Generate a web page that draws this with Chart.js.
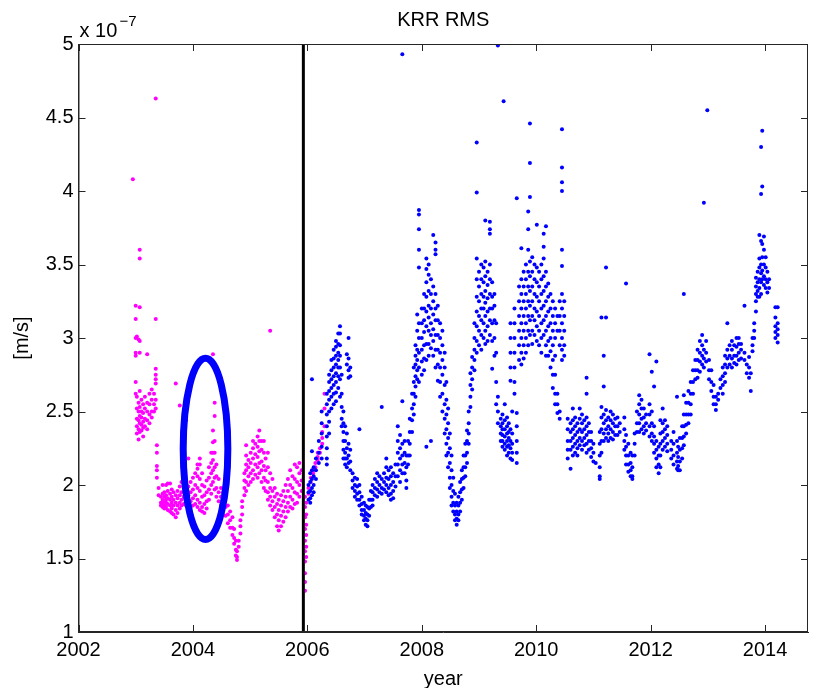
<!DOCTYPE html>
<html lang="en">
<head>
<meta charset="UTF-8">
<title>KRR RMS</title>
<script src="https://cdn.jsdelivr.net/npm/chart.js@4.4.1/dist/chart.umd.min.js"></script>
<style>
  html, body { margin: 0; padding: 0; background: #fff; }
  #wrap { width: 817px; height: 688px; }
</style>
</head>
<body>
<div id="wrap"><canvas id="chart" width="817" height="688"></canvas></div>
<script>
// values are RMS in units of 1e-7 m/s, grouped by year: [year, [values...]]
var magentaCols = [
  [2002.95, [4.08]],
  [2003.00, [3.22, 3.13, 3.00, 2.90, 2.88, 2.70, 2.62]],
  [2003.02, [3.01, 2.60, 2.52, 2.45, 2.40, 2.35]],
  [2003.05, [2.99, 2.56, 2.50, 2.44, 2.38, 2.31]],
  [2003.07, [3.60, 3.54, 3.21, 2.98, 2.90, 2.64, 2.53, 2.47, 2.42, 2.36]],
  [2003.10, [2.58, 2.50, 2.46, 2.41, 2.37]],
  [2003.13, [2.55, 2.49, 2.43, 2.39, 2.33]],
  [2003.16, [2.60, 2.52, 2.45, 2.40]],
  [2003.20, [2.89, 2.56, 2.50, 2.44, 2.38]],
  [2003.24, [2.62, 2.55, 2.48, 2.42]],
  [2003.28, [2.65, 2.58, 2.50, 2.46]],
  [2003.32, [2.62, 2.55, 2.50]],
  [2003.35, [4.63, 3.13, 2.79, 2.75, 2.72, 2.69, 2.58, 2.52]],
  [2003.37, [2.27, 2.22, 2.13, 2.10, 2.05]],
  [2003.40, [1.98, 1.93]],
  [2003.44, [1.92, 1.88, 1.86]],
  [2003.47, [2.00, 1.94, 1.90, 1.87, 1.85]],
  [2003.50, [1.95, 1.92, 1.89, 1.86, 1.84]],
  [2003.53, [2.00, 1.93, 1.90, 1.88, 1.85]],
  [2003.56, [2.01, 1.96, 1.91, 1.87, 1.83]],
  [2003.60, [2.01, 1.94, 1.90, 1.86, 1.82]],
  [2003.63, [1.97, 1.92, 1.88, 1.84, 1.81]],
  [2003.66, [1.95, 1.90, 1.86, 1.80]],
  [2003.70, [2.69, 1.93, 1.88, 1.83, 1.78]],
  [2003.73, [1.96, 1.91, 1.86, 1.81]],
  [2003.77, [2.54, 1.99, 1.93, 1.88, 1.84]],
  [2003.80, [2.02, 1.95, 1.90, 1.86]],
  [2003.84, [2.05, 1.98, 1.92, 1.87]],
  [2003.88, [2.44, 1.96, 1.90, 1.86]],
  [2003.92, [2.18, 1.99, 1.93, 1.88]],
  [2003.96, [2.02, 1.95, 1.89, 1.85]],
  [2004.00, [2.05, 1.97, 1.91, 1.86]],
  [2004.04, [2.08, 2.00, 1.93, 1.87]],
  [2004.08, [2.14, 2.11, 2.06, 1.98, 1.90, 1.85]],
  [2004.12, [2.18, 2.14, 2.04, 1.96, 1.88, 1.83]],
  [2004.16, [2.08, 2.00, 1.92, 1.85, 1.82]],
  [2004.20, [1.99, 1.93, 1.87, 1.81]],
  [2004.24, [2.03, 1.95, 1.89, 1.84]],
  [2004.28, [2.12, 2.05, 1.97, 1.90]],
  [2004.32, [2.22, 2.15, 2.08, 2.00, 1.94]],
  [2004.35, [2.89, 2.37, 2.29, 2.22, 2.17, 2.10, 2.02]],
  [2004.38, [2.56, 2.47, 2.30, 2.22, 2.12, 2.05, 1.97]],
  [2004.41, [2.14, 2.06, 1.98, 1.92]],
  [2004.45, [2.04, 1.95, 1.89]],
  [2004.49, [1.98, 1.92, 1.86]],
  [2004.53, [1.95, 1.89, 1.83]],
  [2004.57, [1.92, 1.85, 1.79]],
  [2004.61, [1.86, 1.80, 1.74]],
  [2004.65, [1.82, 1.76, 1.71]],
  [2004.69, [1.78, 1.71, 1.66]],
  [2004.72, [1.70, 1.64, 1.60]],
  [2004.75, [1.62, 1.56, 1.52]],
  [2004.77, [1.55, 1.51, 1.49]],
  [2004.80, [1.58, 1.62]],
  [2004.83, [1.67, 1.72, 1.76]],
  [2004.86, [1.80, 1.85, 1.89]],
  [2004.90, [1.93, 1.98, 2.03, 2.08]],
  [2004.93, [2.14, 2.20, 2.27, 2.10, 2.02, 1.96]],
  [2004.97, [2.17, 2.12, 2.06, 2.00]],
  [2005.01, [2.22, 2.15, 2.08, 2.02]],
  [2005.05, [2.30, 2.25, 2.18, 2.10, 2.04]],
  [2005.09, [2.28, 2.21, 2.14, 2.07]],
  [2005.13, [2.33, 2.26, 2.19, 2.12, 2.05]],
  [2005.16, [2.37, 2.30, 2.23, 2.15, 2.08]],
  [2005.20, [2.30, 2.24, 2.16, 2.10, 2.02]],
  [2005.24, [2.30, 2.22, 2.13, 2.05, 1.98]],
  [2005.27, [2.18, 2.10, 2.03, 1.96]],
  [2005.31, [2.22, 2.12, 2.02, 1.95, 1.90]],
  [2005.35, [3.05, 2.08, 1.98, 1.92, 1.86]],
  [2005.39, [2.04, 1.96, 1.89, 1.83]],
  [2005.43, [1.98, 1.92, 1.85, 1.78]],
  [2005.47, [1.94, 1.87, 1.80, 1.72]],
  [2005.50, [1.90, 1.83, 1.76, 1.69]],
  [2005.54, [1.93, 1.86, 1.79, 1.72]],
  [2005.58, [1.96, 1.89, 1.82, 1.75]],
  [2005.62, [2.00, 1.92, 1.85, 1.78]],
  [2005.66, [2.04, 1.96, 1.88, 1.82]],
  [2005.70, [2.10, 2.00, 1.92, 1.85]],
  [2005.74, [2.06, 1.98, 1.90, 1.84]],
  [2005.78, [2.14, 2.04, 1.95, 1.87]],
  [2005.82, [2.12, 2.02, 1.94, 1.88]],
  [2005.86, [2.15, 2.08, 2.00, 1.92]],
  [2005.90, [2.10, 2.03, 1.96]],
  [2005.96, [1.92, 1.85, 1.78, 1.70, 1.62, 1.55, 1.48, 1.40, 1.34, 1.28]],
  [2005.98, [1.88, 1.80, 1.73, 1.66, 1.58, 1.51]],
  [2006.02, [1.98, 1.94]],
  [2006.06, [2.02, 2.05]],
  [2006.10, [2.08, 2.10]],
  [2006.14, [2.12, 2.15]],
  [2006.18, [2.17, 2.19, 2.22]],
  [2006.22, [2.22, 2.25]],
  [2006.26, [2.28, 2.32, 2.36]],
  [2006.30, [2.40, 2.52, 2.62]]
];

var blueCols = [
  [2006.02, [2.00, 1.95, 1.90]],
  [2006.05, [2.08, 2.02, 1.96, 1.91, 1.88]],
  [2006.08, [2.72, 2.23, 2.10, 2.04, 1.98, 1.93]],
  [2006.11, [2.12, 2.06, 2.00, 1.95]],
  [2006.15, [2.18, 2.10, 2.04]],
  [2006.20, [2.30, 2.22, 2.15]],
  [2006.25, [2.50, 2.42, 2.35, 2.26, 2.18]],
  [2006.34, [2.62, 2.55, 2.48, 2.40, 2.33, 2.25, 2.18, 2.14]],
  [2006.38, [2.75, 2.70, 2.64, 2.58, 2.50, 2.43, 2.35]],
  [2006.42, [2.85, 2.78, 2.72, 2.66, 2.60, 2.52]],
  [2006.46, [2.92, 2.86, 2.80, 2.74, 2.68, 2.62, 2.55]],
  [2006.50, [2.98, 2.94, 2.88, 2.82, 2.76, 2.70, 2.63, 2.57]],
  [2006.54, [3.03, 2.96, 2.90, 2.85, 2.80, 2.74, 2.66]],
  [2006.57, [3.08, 3.03, 2.95, 2.88, 2.80, 2.72, 2.60]],
  [2006.60, [2.75, 2.62, 2.53, 2.45, 2.40]],
  [2006.63, [2.50, 2.42, 2.36, 2.30, 2.24, 2.18]],
  [2006.66, [2.40, 2.30, 2.22, 2.18, 2.14]],
  [2006.69, [2.89, 2.82, 2.35, 2.25, 2.18, 2.12]],
  [2006.72, [3.00, 2.86, 2.78, 2.73, 2.28, 2.20, 2.15]],
  [2006.75, [2.80, 2.74, 2.24, 2.16, 2.10]],
  [2006.79, [2.08, 2.03, 1.98]],
  [2006.83, [2.05, 2.00, 1.96, 1.92]],
  [2006.87, [2.04, 1.99, 1.94, 1.90]],
  [2006.91, [2.38, 2.00, 1.95, 1.90, 1.86]],
  [2006.95, [1.92, 1.87, 1.83, 1.80]],
  [2006.99, [1.88, 1.83, 1.79, 1.76]],
  [2007.02, [1.86, 1.81, 1.77, 1.73]],
  [2007.05, [1.85, 1.80, 1.76, 1.72]],
  [2007.08, [1.90, 1.84, 1.79]],
  [2007.11, [1.96, 1.90, 1.85]],
  [2007.14, [2.00, 1.95, 1.90, 1.86]],
  [2007.18, [2.04, 1.98, 1.93]],
  [2007.22, [2.08, 2.02, 1.97, 1.92]],
  [2007.26, [2.06, 2.00, 1.95]],
  [2007.30, [2.53, 2.04, 1.98, 1.94]],
  [2007.34, [2.08, 2.02, 1.97]],
  [2007.38, [2.18, 2.12, 2.05, 2.00, 1.95]],
  [2007.42, [2.10, 2.04, 1.98, 1.93]],
  [2007.46, [2.12, 2.06, 2.00, 1.94, 1.90]],
  [2007.50, [2.08, 2.02, 1.96, 1.91]],
  [2007.54, [2.14, 2.06, 1.99]],
  [2007.58, [2.40, 2.30, 2.22, 2.14, 2.06]],
  [2007.62, [2.34, 2.25, 2.18, 2.10, 2.02]],
  [2007.66, [4.93, 2.57, 2.28, 2.20, 2.14, 2.08]],
  [2007.70, [2.30, 2.22, 2.15, 2.08]],
  [2007.73, [2.20, 2.12, 2.03, 1.98]],
  [2007.76, [2.30, 2.20, 2.14]],
  [2007.79, [2.45, 2.36, 2.28, 2.20]],
  [2007.83, [2.62, 2.52, 2.44, 2.36]],
  [2007.86, [2.80, 2.70, 2.62, 2.55, 2.48]],
  [2007.89, [2.95, 2.88, 2.82, 2.74, 2.67, 2.60]],
  [2007.92, [3.16, 3.05, 2.92, 2.85, 2.78, 2.72]],
  [2007.95, [3.87, 3.84, 3.74, 3.60, 3.48, 3.10, 3.00, 2.90, 2.80, 2.70]],
  [2008.00, [3.20, 3.10, 3.00, 2.92, 2.84, 2.75]],
  [2008.04, [3.30, 3.20, 3.12, 3.04, 2.95, 2.86, 2.78]],
  [2008.08, [3.54, 3.47, 3.38, 3.28, 3.18, 3.08, 2.96, 2.85, 2.26]],
  [2008.12, [3.50, 3.43, 3.32, 3.22, 3.14, 3.05, 2.96, 2.88]],
  [2008.16, [3.40, 3.30, 3.20, 3.10, 3.02, 2.93, 2.30]],
  [2008.20, [3.70, 3.35, 3.25, 3.16, 3.06, 2.98, 2.88]],
  [2008.24, [3.65, 3.60, 3.57, 3.30, 3.20, 3.12, 3.02, 2.92, 2.80]],
  [2008.28, [3.22, 3.12, 3.02, 2.92, 2.82, 2.71]],
  [2008.32, [3.10, 3.00, 2.90, 2.80, 2.70, 2.60]],
  [2008.36, [3.05, 2.95, 2.85, 2.75, 2.62, 2.50]],
  [2008.40, [2.90, 2.80, 2.68, 2.55, 2.45, 2.35]],
  [2008.43, [2.70, 2.58, 2.48, 2.38, 2.28, 2.20]],
  [2008.46, [2.52, 2.42, 2.32, 2.22, 2.12]],
  [2008.49, [2.35, 2.25, 2.15, 2.05, 1.98]],
  [2008.52, [2.20, 2.10, 2.00, 1.92, 1.86]],
  [2008.55, [2.05, 1.96, 1.88, 1.82]],
  [2008.58, [1.94, 1.86, 1.80, 1.76]],
  [2008.61, [1.88, 1.82, 1.77, 1.73]],
  [2008.64, [1.92, 1.86, 1.80, 1.76]],
  [2008.67, [2.02, 1.95, 1.88, 1.82]],
  [2008.70, [2.10, 2.04, 1.97, 1.90]],
  [2008.73, [2.20, 2.12, 2.05, 1.98]],
  [2008.76, [2.28, 2.20, 2.12, 2.06]],
  [2008.79, [2.37, 2.30, 2.22, 2.15]],
  [2008.82, [2.50, 2.42, 2.35, 2.28]],
  [2008.85, [2.76, 2.68, 2.60, 2.53]],
  [2008.88, [2.87, 2.80, 2.72, 2.65]],
  [2008.92, [3.10, 3.00, 2.92, 2.85, 2.78]],
  [2008.96, [4.33, 3.99, 3.54, 3.40, 3.28, 3.18, 3.08, 2.98, 2.90]],
  [2009.00, [3.45, 3.35, 3.25, 3.15, 3.05, 2.95]],
  [2009.04, [3.50, 3.40, 3.30, 3.20, 3.12, 3.02, 2.92]],
  [2009.08, [3.48, 3.38, 3.28, 3.20, 3.10, 3.00]],
  [2009.11, [3.80, 3.52, 3.42, 3.32, 3.24, 3.15, 3.05, 2.96]],
  [2009.15, [3.45, 3.36, 3.27, 3.18, 3.08, 2.98]],
  [2009.19, [3.79, 3.74, 3.71, 3.50, 3.40, 3.30, 3.20, 3.12, 3.02]],
  [2009.23, [3.38, 3.28, 3.20, 3.10, 2.98, 2.79]],
  [2009.27, [3.30, 3.22, 3.12, 3.00, 2.88]],
  [2009.30, [3.10, 2.90, 2.70, 2.55]],
  [2009.33, [4.99, 2.60, 2.50, 2.42]],
  [2009.38, [2.45, 2.40, 2.35, 2.30]],
  [2009.41, [2.48, 2.42, 2.38, 2.34, 2.30, 2.26]],
  [2009.43, [4.61]],
  [2009.45, [2.55, 2.44, 2.38, 2.33, 2.28, 2.24]],
  [2009.49, [2.46, 2.40, 2.35, 2.30, 2.26, 2.20]],
  [2009.52, [2.42, 2.36, 2.32, 2.27, 2.22]],
  [2009.55, [3.10, 3.00, 2.90, 2.80, 2.71, 2.38, 2.30, 2.25, 2.18]],
  [2009.58, [2.50, 2.35, 2.28, 2.22, 2.17]],
  [2009.62, [3.20, 3.10, 3.00, 2.90, 2.80, 2.70, 2.62]],
  [2009.66, [3.95, 2.49, 2.40, 2.30, 2.22, 2.15]],
  [2009.70, [3.35, 3.25, 3.15, 3.05, 2.95, 2.85]],
  [2009.74, [3.61, 3.40, 3.30, 3.20, 3.10, 3.00, 2.90, 2.82]],
  [2009.78, [3.45, 3.35, 3.25, 3.15, 3.05, 2.95, 2.86]],
  [2009.82, [3.50, 3.40, 3.30, 3.20, 3.10, 3.00, 2.90]],
  [2009.86, [3.86, 3.74, 3.60, 3.45, 3.35, 3.25, 3.15, 3.05, 2.95]],
  [2009.89, [4.46, 4.19, 3.96, 3.52, 3.42, 3.32, 3.22, 3.12, 3.02]],
  [2009.93, [3.55, 3.45, 3.35, 3.25, 3.15, 3.05, 2.96]],
  [2009.97, [3.50, 3.40, 3.30, 3.20, 3.12, 3.02]],
  [2010.01, [3.77, 3.48, 3.38, 3.28, 3.18, 3.08, 2.98]],
  [2010.05, [3.45, 3.35, 3.25, 3.15, 3.05, 2.95]],
  [2010.09, [3.50, 3.40, 3.30, 3.20, 3.10, 3.00, 2.90]],
  [2010.13, [3.71, 3.62, 3.54, 3.42, 3.32, 3.22, 3.12, 3.02]],
  [2010.17, [3.76, 3.45, 3.35, 3.25, 3.15, 3.05, 2.95, 2.88]],
  [2010.21, [3.37, 3.28, 3.18, 3.08, 2.98, 2.88]],
  [2010.25, [3.30, 3.20, 3.10, 3.00, 2.91, 2.80]],
  [2010.29, [3.25, 3.15, 3.05, 2.95, 2.85, 2.75, 2.66]],
  [2010.33, [3.20, 3.10, 3.00, 2.88, 2.75, 2.62, 2.55]],
  [2010.37, [3.15, 3.05, 2.62, 2.55, 2.49]],
  [2010.41, [3.25, 3.15, 3.05, 2.95, 2.50, 2.45]],
  [2010.45, [4.42, 4.16, 4.06, 4.00, 3.60, 3.49, 3.30, 3.20, 3.10, 3.00, 2.92, 2.85]],
  [2010.49, [3.25, 3.15, 3.05, 2.95, 2.88]],
  [2010.55, [2.45, 2.38, 2.30, 2.24, 2.18]],
  [2010.60, [2.42, 2.36, 2.30, 2.24, 2.11]],
  [2010.64, [2.52, 2.44, 2.38, 2.32, 2.26, 2.20]],
  [2010.68, [2.46, 2.40, 2.34, 2.28, 2.22]],
  [2010.72, [2.42, 2.36, 2.30, 2.25, 2.20]],
  [2010.76, [2.52, 2.45, 2.38, 2.32, 2.27]],
  [2010.80, [2.48, 2.42, 2.36, 2.30, 2.24]],
  [2010.84, [2.44, 2.38, 2.32, 2.27]],
  [2010.88, [2.73, 2.62, 2.46, 2.40, 2.34, 2.28, 2.22]],
  [2010.92, [2.42, 2.36, 2.30, 2.24]],
  [2010.96, [2.36, 2.30, 2.25, 2.19]],
  [2011.00, [2.28, 2.22, 2.16]],
  [2011.04, [2.15]],
  [2011.11, [2.04, 2.06, 2.12, 2.20, 2.28, 2.36]],
  [2011.14, [3.14, 2.53, 2.46, 2.38, 2.30, 2.22]],
  [2011.18, [2.88, 2.67, 2.48, 2.42, 2.35, 2.30]],
  [2011.22, [3.48, 3.14, 2.51, 2.44, 2.38, 2.32]],
  [2011.26, [2.46, 2.40, 2.35, 2.30]],
  [2011.30, [2.50, 2.44, 2.38, 2.32]],
  [2011.34, [2.48, 2.42, 2.36, 2.31]],
  [2011.38, [2.45, 2.40, 2.34]],
  [2011.42, [2.46, 2.40, 2.34]],
  [2011.46, [2.42, 2.36]],
  [2011.54, [2.46, 2.38, 2.30, 2.24]],
  [2011.57, [3.37, 2.34, 2.26, 2.20, 2.14]],
  [2011.61, [2.28, 2.20, 2.14, 2.09]],
  [2011.65, [2.22, 2.15, 2.10, 2.06]],
  [2011.68, [2.20, 2.12, 2.06, 2.04]],
  [2011.72, [2.35, 2.28, 2.20]],
  [2011.76, [2.50, 2.42, 2.36]],
  [2011.80, [2.61, 2.55, 2.48, 2.42, 2.36]],
  [2011.84, [2.58, 2.52, 2.45, 2.38]],
  [2011.88, [2.52, 2.46, 2.40, 2.35]],
  [2011.92, [2.48, 2.42, 2.37]],
  [2011.98, [2.89, 2.55, 2.48, 2.40, 2.33]],
  [2012.02, [2.77, 2.50, 2.42, 2.35, 2.30]],
  [2012.06, [2.67, 2.40, 2.33, 2.28, 2.22]],
  [2012.10, [2.84, 2.30, 2.24, 2.18, 2.12]],
  [2012.14, [2.26, 2.20, 2.14, 2.08]],
  [2012.17, [2.44, 2.35, 2.28, 2.20, 2.12]],
  [2012.21, [2.52, 2.42, 2.36, 2.30, 2.24]],
  [2012.25, [2.44, 2.38, 2.32, 2.26]],
  [2012.29, [2.40, 2.34, 2.28, 2.23]],
  [2012.36, [2.30, 2.24, 2.18]],
  [2012.40, [2.36, 2.28, 2.20, 2.14]],
  [2012.46, [2.60, 2.30, 2.22, 2.16, 2.11]],
  [2012.48, [2.26, 2.19, 2.13, 2.10]],
  [2012.51, [2.32, 2.24, 2.16, 2.10]],
  [2012.55, [2.40, 2.32, 2.25, 2.18]],
  [2012.58, [3.30, 2.61, 2.48, 2.40, 2.33, 2.27]],
  [2012.62, [2.56, 2.48, 2.41, 2.35]],
  [2012.66, [2.64, 2.56, 2.48, 2.42]],
  [2012.70, [2.70, 2.62, 2.55, 2.48]],
  [2012.74, [2.78, 2.70, 2.62]],
  [2012.78, [2.85, 2.78, 2.72]],
  [2012.82, [2.92, 2.85, 2.78, 2.73]],
  [2012.86, [2.98, 2.90, 2.84, 2.77]],
  [2012.90, [3.02, 2.95, 2.88, 2.82]],
  [2012.93, [3.92, 2.92, 2.86, 2.80]],
  [2012.97, [2.98, 2.90, 2.84]],
  [2012.99, [4.55]],
  [2013.02, [2.85, 2.78, 2.72]],
  [2013.06, [2.78, 2.70, 2.64]],
  [2013.10, [2.68, 2.60, 2.55]],
  [2013.14, [2.60, 2.55, 2.51]],
  [2013.18, [2.62, 2.58]],
  [2013.22, [2.72, 2.66]],
  [2013.26, [2.80, 2.74, 2.68, 2.62]],
  [2013.30, [2.88, 2.82, 2.76, 2.70]],
  [2013.34, [3.10, 2.92, 2.86, 2.80]],
  [2013.38, [2.95, 2.88, 2.82]],
  [2013.42, [2.98, 2.92, 2.86, 2.80]],
  [2013.46, [2.95, 2.88, 2.83]],
  [2013.50, [3.00, 2.94, 2.88, 2.82]],
  [2013.54, [3.00, 2.96, 2.90, 2.85]],
  [2013.58, [2.96, 2.92, 2.86]],
  [2013.64, [3.22, 2.90, 2.85]],
  [2013.68, [2.82, 2.76]],
  [2013.72, [2.87, 2.80, 2.73]],
  [2013.75, [2.64, 2.76]],
  [2013.78, [3.00, 2.95, 2.91]],
  [2013.81, [3.10, 3.05, 3.00]],
  [2013.84, [3.41, 3.35, 3.30, 3.25, 3.18]],
  [2013.87, [3.45, 3.38, 3.32, 3.28]],
  [2013.90, [3.70, 3.54, 3.48, 3.40, 3.34, 3.28]],
  [2013.93, [4.30, 3.98, 3.66, 3.50, 3.44, 3.38, 3.30]],
  [2013.95, [4.41, 4.03, 3.64, 3.55, 3.46, 3.40]],
  [2013.98, [3.69, 3.60, 3.50, 3.42, 3.36]],
  [2014.01, [3.55, 3.48, 3.40, 3.34]],
  [2014.04, [3.45, 3.38, 3.31]],
  [2014.07, [3.40, 3.34]],
  [2014.18, [3.21, 3.14, 3.08, 3.04, 3.00]],
  [2014.22, [3.21, 3.10, 3.06, 3.02, 2.97]]
];

var xMin = 2002, xMax = 2014.75, xStep = 2;
var yMin = 1, yMax = 5, yStep = 0.5;
var splitYear = 2005.93;            // black vertical marker
var ringCenter = [2004.22, 2.246];  // hand-drawn ellipse, data units
var ringRadius = [0.39, 0.616];

var FONT = '"Liberation Sans", Arial, Helvetica, sans-serif';

function expand(cols) {
    var pts = [];
    cols.forEach(function (c) {
        c[1].forEach(function (v) { pts.push({ x: c[0], y: v }); });
    });
    return pts;
}

// MATLAB style box: border on all four sides, ticks pointing inward, plus texts and ellipse
var decorPlugin = {
    id: 'decor',
    afterDatasetsDraw: function (chart) {
        var ctx = chart.ctx, a = chart.chartArea;
        var xs = chart.scales.x, ys = chart.scales.y;
        ctx.save();

        // ellipse annotation
        var cx = xs.getPixelForValue(ringCenter[0]);
        var cy = ys.getPixelForValue(ringCenter[1]);
        var rx = Math.abs(xs.getPixelForValue(ringCenter[0] + ringRadius[0]) - cx);
        var ry = Math.abs(ys.getPixelForValue(ringCenter[1] + ringRadius[1]) - cy);
        ctx.beginPath();
        ctx.ellipse(cx, cy, rx, ry, 0, 0, Math.PI * 2);
        ctx.strokeStyle = '#0000ff';
        ctx.lineWidth = 7;
        ctx.stroke();

        // box
        ctx.strokeStyle = '#262626';
        ctx.lineWidth = 1;
        ctx.strokeRect(a.left + 0.5, a.top + 0.5, a.right - a.left - 1, a.bottom - a.top - 1);

        var tl = 7;
        ctx.beginPath();
        for (var xv = xMin; xv <= xMax; xv += xStep) {
            var px = Math.round(xs.getPixelForValue(xv)) + 0.5;
            ctx.moveTo(px, a.bottom); ctx.lineTo(px, a.bottom - tl);
            ctx.moveTo(px, a.top); ctx.lineTo(px, a.top + tl);
        }
        for (var yv = yMin; yv <= yMax + 1e-9; yv += yStep) {
            var py = Math.round(ys.getPixelForValue(yv)) + 0.5;
            ctx.moveTo(a.left, py); ctx.lineTo(a.left + tl, py);
            ctx.moveTo(a.right, py); ctx.lineTo(a.right - tl, py);
        }
        ctx.stroke();

        // texts
        ctx.fillStyle = '#000';
        ctx.font = '20px ' + FONT;
        ctx.textAlign = 'center';
        ctx.textBaseline = 'alphabetic';
        ctx.fillText('KRR RMS', (a.left + a.right) / 2, 26);
        ctx.fillText('year', (a.left + a.right) / 2, 685);

        ctx.textAlign = 'left';
        ctx.fillText('x 10', a.left + 1, 37);
        ctx.font = '15px ' + FONT;
        ctx.fillText('\u22127', a.left + 41, 26);

        ctx.font = '20px ' + FONT;
        ctx.translate(28, (a.top + a.bottom) / 2);
        ctx.rotate(-Math.PI / 2);
        ctx.textAlign = 'center';
        ctx.fillText('[m/s]', 0, 0);
        ctx.restore();
    }
};

var ctx = document.getElementById('chart').getContext('2d');
new Chart(ctx, {
    type: 'scatter',
    data: {
        datasets: [
            {
                type: 'line',
                data: [{ x: splitYear, y: yMin }, { x: splitYear, y: yMax }],
                borderColor: '#000',
                borderWidth: 3,
                pointRadius: 0,
                order: 0
            },
            {
                data: expand(blueCols),
                backgroundColor: '#0000ff',
                borderWidth: 0,
                pointRadius: 2,
                order: 1
            },
            {
                data: expand(magentaCols),
                backgroundColor: '#ff00ff',
                borderWidth: 0,
                pointRadius: 2,
                order: 2
            }
        ]
    },
    options: {
        responsive: false,
        animation: false,
        events: [],
        layout: { padding: { top: 44, right: 9, bottom: 0, left: 0 } },
        plugins: {
            legend: { display: false },
            tooltip: { enabled: false },
            title: { display: false }
        },
        scales: {
            x: {
                type: 'linear',
                min: xMin,
                max: xMax,
                afterFit: function (s) { s.height = 56; },
                grid: { drawOnChartArea: false, drawTicks: false },
                border: { color: '#262626' },
                ticks: {
                    stepSize: xStep,
                    includeBounds: false,
                    padding: 6,
                    color: '#000',
                    font: { family: FONT, size: 20 },
                    maxRotation: 0,
                    autoSkip: false,
                    callback: function (v) { return v % 1 === 0 ? String(v) : ''; }
                }
            },
            y: {
                min: yMin,
                max: yMax,
                afterFit: function (s) { s.width = 78.5; },
                grid: { drawOnChartArea: false, drawTicks: false },
                border: { color: '#262626' },
                ticks: {
                    stepSize: yStep,
                    padding: 5,
                    color: '#000',
                    font: { family: FONT, size: 20 },
                    autoSkip: false,
                    callback: function (v) { return String(Math.round(v * 10) / 10); }
                }
            }
        }
    },
    plugins: [decorPlugin]
});
</script>
</body>
</html>
